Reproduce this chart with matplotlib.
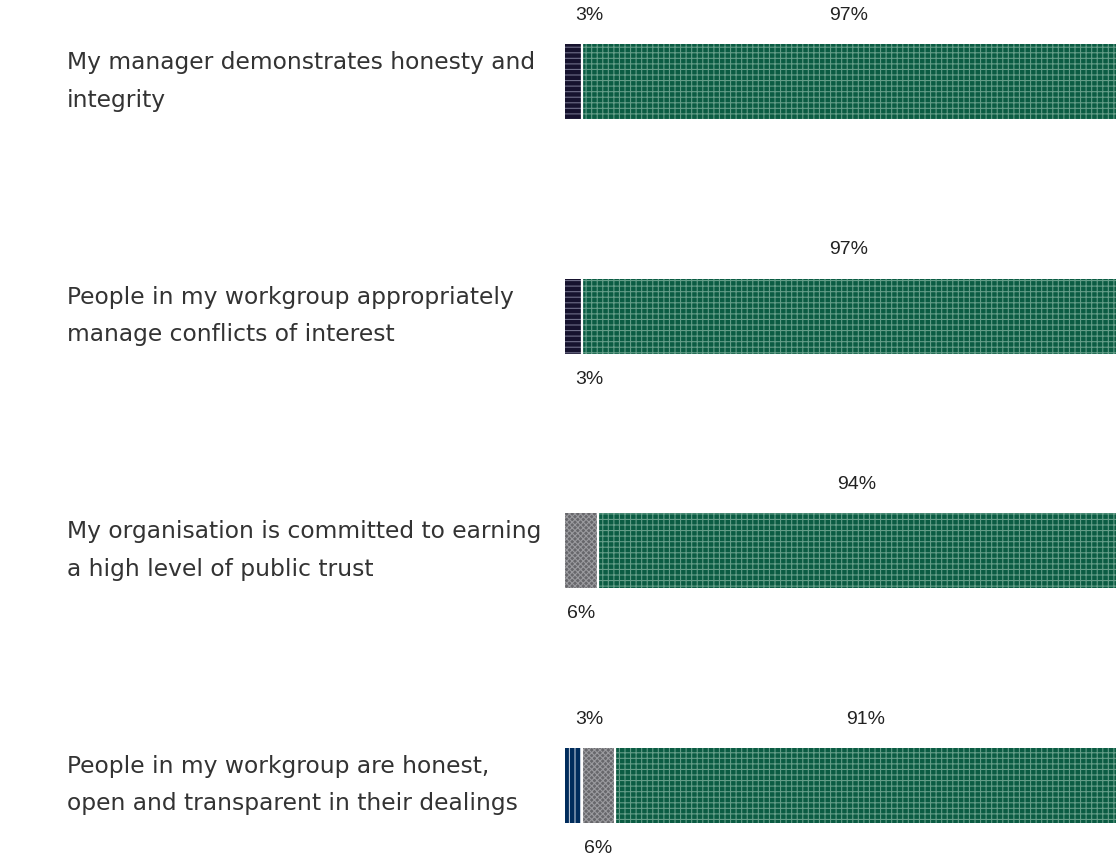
import numpy as np
import matplotlib
matplotlib.use("Agg")
import matplotlib.pyplot as plt

# survey statements (top to bottom)
categories = [
    "My manager demonstrates honesty and\nintegrity",
    "People in my workgroup appropriately\nmanage conflicts of interest",
    "My organisation is committed to earning\na high level of public trust",
    "People in my workgroup are honest,\nopen and transparent in their dealings",
]

# response shares in %, left to right
navy_vals = [3, 3, 0, 0]
blue_vals = [0, 0, 0, 3]
grey_vals = [0, 0, 6, 6]
green_vals = [97, 97, 94, 91]

# where each segment's label goes (series order: navy, blue, grey, green)
label_side = [
    ["above", None, None, "above"],
    ["below", None, None, "above"],
    [None, None, "below", "above"],
    [None, "above", "below", "above"],
]

series = [
    (navy_vals, "#16122e", "#6f6e88", "---"),
    (blue_vals, "#002c5c", "#b9c4d3", "|||"),
    (grey_vals, "#67676b", "#9a9a9e", "xxxxxx"),
    (green_vals, "#0b5c43", "#649d88", "+++"),
]

plt.rcParams["hatch.linewidth"] = 0.8

W, H = 1116, 856
fig = plt.figure(figsize=(W / 100, H / 100), dpi=100)
fig.patch.set_facecolor("white")

bar_left_px = 565
row_step_px = 234.5
first_center_px = 81.5
ax = fig.add_axes([bar_left_px / W, 0, 1 - bar_left_px / W, 1])
ax.set_xlim(0, 100)
y_top = -first_center_px / row_step_px
y_bot = (H - first_center_px) / row_step_px
ax.set_ylim(y_bot, y_top)
ax.axis("off")

bar_h = 75 / row_step_px
ypos = np.arange(len(categories))
left = np.zeros(len(categories))
for si, (vals, fc, hc, hatch) in enumerate(series):
    vals = np.array(vals, dtype=float)
    ax.barh(ypos, vals, left=left, height=bar_h, color=fc, edgecolor=hc,
            linewidth=0, hatch=hatch)
    for i, v in enumerate(vals):
        side = label_side[i][si]
        if v <= 0 or side is None:
            continue
        cx = left[i] + v / 2
        if v < 4:
            cx += 3.0
        dy = -66 / row_step_px if side == "above" else 63 / row_step_px
        ax.text(cx, i + dy, f"{int(v)}%", ha="center", va="center",
                fontsize=14, color="#222222", family="Liberation Sans")
    left = left + vals

# thin white gaps between segments
cum = np.zeros(len(categories))
for vals, *_ in series[:-1]:
    cum = cum + np.array(vals, dtype=float)
    for i in range(len(categories)):
        if 0 < cum[i] < 100 and vals[i] > 0:
            ax.vlines(cum[i], i - bar_h / 2, i + bar_h / 2, color="white", linewidth=1.6)

# statement labels on the left
for i, cat in enumerate(categories):
    y_fig = 1 - (first_center_px + row_step_px * i) / H
    fig.text(67 / W, y_fig, cat, ha="left", va="center", fontsize=16.8,
             color="#333333", family="DejaVu Sans", linespacing=1.8)

fig.savefig("out.png", dpi=100)
